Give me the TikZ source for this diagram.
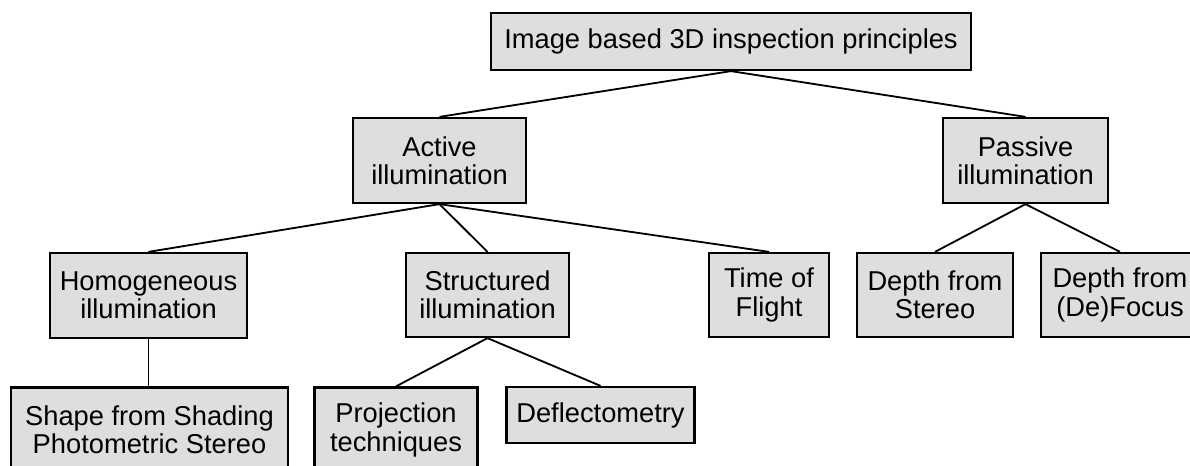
\documentclass[tikz,border=0pt]{standalone}
\usepackage{fontspec}
\setmainfont{Liberation Sans}
\usepackage{tikz}
\usetikzlibrary{calc}
\definecolor{boxgray}{RGB}{222,222,222}

\begin{document}
\begin{tikzpicture}[x=0.025cm,y=-0.025cm,
		box/.style={draw=black,line width=1.6pt,fill=boxgray,align=center,inner sep=0pt,
			font=\fontsize{19.4}{20.1}\selectfont},
		link/.style={draw=black,line width=1.3pt}]

			\clip (0,0) rectangle (1190,466);

			\node[box,minimum width=480*0.025cm,minimum height=57*0.025cm] (root) at (731,41.5) {Image based 3D inspection principles};

			\node[box,minimum width=173*0.025cm,minimum height=85*0.025cm] (active) at (439.5,160.5) {Active\\illumination};
			\node[box,minimum width=165*0.025cm,minimum height=85*0.025cm] (passive) at (1025.5,160.5) {Passive\\illumination};

			\node[box,minimum width=197*0.025cm,minimum height=85*0.025cm] (homog) at (148.5,295.5) {Homogeneous\\illumination};
			\node[box,minimum width=163*0.025cm,minimum height=84*0.025cm] (struct) at (487.5,295) {Structured\\illumination};
			\node[box,minimum width=120*0.025cm,minimum height=84*0.025cm] (tof) at (769,295) {Time of\\Flight};
			\node[box,minimum width=156*0.025cm,minimum height=84*0.025cm] (stereo) at (935,295) {Depth from\\Stereo};
			\node[box,minimum width=158*0.025cm,minimum height=84*0.025cm] (defocus) at (1120,295) {Depth from\\(De)Focus};

			\node[box,minimum width=277*0.025cm,minimum height=85*0.025cm] (shading) at (149.5,430) {Shape from Shading\\Photometric Stereo};
			\node[box,minimum width=163*0.025cm,minimum height=85*0.025cm] (proj) at (396,430) {Projection\\techniques};
			\node[box,minimum width=188*0.025cm,minimum height=56*0.025cm] (deflect) at (600.5,415) {Deflectometry};

			\draw[link] (root.south) -- (active.north);
			\draw[link] (root.south) -- (passive.north);

			\draw[link] (active.south) -- (homog.north);
			\draw[link] (active.south) -- (struct.north);
			\draw[link] (active.south) -- (tof.north);
			\draw[link] (passive.south) -- (stereo.north);
			\draw[link] (passive.south) -- (defocus.north);

			\draw[link] (homog.south) -- (homog.south |- shading.north);
			\draw[link] (struct.south) -- (proj.north);
			\draw[link] (struct.south) -- (deflect.north);

		\end{tikzpicture}
\end{document}
